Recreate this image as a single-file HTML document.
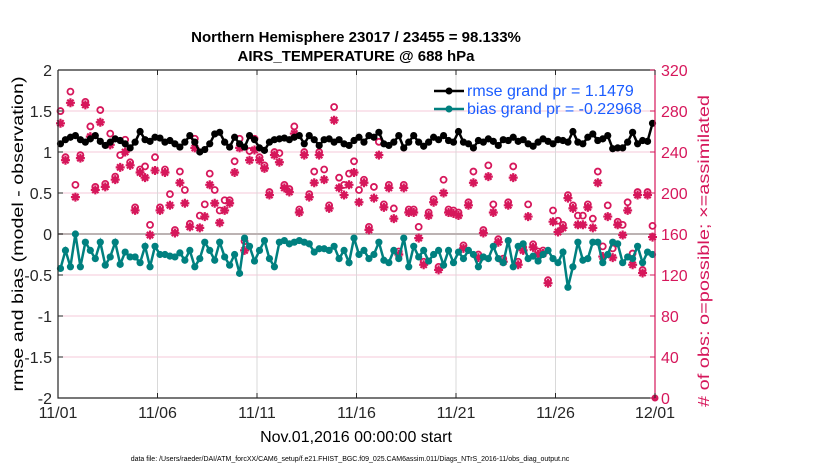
<!DOCTYPE html>
<html><head><meta charset="utf-8"><style>
body{margin:0;background:#fff;}
svg{display:block;font-family:"Liberation Sans",Arial,sans-serif;}
</style></head><body>
<svg id="chart" width="830" height="470" viewBox="0 0 830 470">
<rect width="830" height="470" fill="#fff"/>
<g id="grid"></g><g id="marks"></g><g id="axes"></g>
<text x="356" y="42" text-anchor="middle" font-size="15" font-weight="bold">Northern Hemisphere 23017 / 23455 = 98.133%</text>
<text x="356" y="61" text-anchor="middle" font-size="15" font-weight="bold">AIRS_TEMPERATURE @ 688 hPa</text>
<text transform="translate(23,234) rotate(-90)" text-anchor="middle" font-size="16" textLength="315" lengthAdjust="spacingAndGlyphs">rmse and bias (model - observation)</text>
<text transform="translate(709,251) rotate(-90)" text-anchor="middle" font-size="16" textLength="312" lengthAdjust="spacingAndGlyphs" fill="#d6175b"># of obs: o=possible; ×=assimilated</text>
<text x="356" y="442" text-anchor="middle" font-size="16">Nov.01,2016 00:00:00 start</text>
<text x="350" y="461" text-anchor="middle" font-size="7">data file: /Users/raeder/DAI/ATM_forcXX/CAM6_setup/f.e21.FHIST_BGC.f09_025.CAM6assim.011/Diags_NTrS_2016-11/obs_diag_output.nc</text>
<g>
<line x1="434" y1="91" x2="464" y2="91" stroke="#000" stroke-width="2.5"/><circle cx="449" cy="91" r="3.5" fill="#000"/>
<text x="467" y="96" font-size="16" fill="#1a5cff">rmse grand pr = 1.1479</text>
<line x1="434" y1="109" x2="464" y2="109" stroke="#00807f" stroke-width="2.5"/><circle cx="449" cy="109" r="3.5" fill="#00807f"/>
<text x="467" y="114" font-size="16" fill="#1a5cff">bias grand pr = -0.22968</text>
</g>
</svg>
<script>
const rmse=[1.10,1.15,1.18,1.20,1.15,1.12,1.16,1.20,1.13,1.08,1.12,1.16,1.14,1.10,1.05,1.12,1.25,1.15,1.13,1.18,1.17,1.12,1.14,1.10,1.06,1.12,1.20,1.12,1.00,1.03,1.10,1.22,1.24,1.12,1.06,1.18,1.10,1.06,1.20,1.15,1.05,1.02,1.12,1.15,1.16,1.17,1.15,1.18,1.20,1.10,1.20,1.15,1.08,1.15,1.16,1.12,1.15,1.10,1.08,1.14,1.18,1.12,1.20,1.18,1.24,1.10,1.08,1.12,1.20,1.05,1.12,1.20,1.12,1.07,1.12,1.18,1.15,1.20,1.14,1.12,1.25,1.12,1.10,1.05,1.14,1.12,1.16,1.13,1.08,1.15,1.14,1.18,1.13,1.15,1.10,1.07,1.12,1.16,1.13,1.10,1.15,1.14,1.12,1.25,1.12,1.10,1.18,1.22,1.14,1.16,1.20,1.04,1.05,1.05,1.12,1.24,1.10,1.14,1.13,1.35];
const bias=[-0.42,-0.2,-0.4,0.0,-0.4,-0.1,-0.2,-0.3,-0.1,-0.38,-0.28,-0.1,-0.37,-0.22,-0.28,-0.28,-0.35,-0.15,-0.4,-0.15,-0.25,-0.25,-0.27,-0.28,-0.23,-0.32,-0.2,-0.4,-0.3,-0.1,-0.2,-0.32,-0.1,-0.28,-0.38,-0.25,-0.48,-0.05,-0.15,-0.33,-0.2,-0.08,-0.3,-0.4,-0.1,-0.08,-0.12,-0.1,-0.08,-0.1,-0.12,-0.22,-0.18,-0.18,-0.2,-0.15,-0.3,-0.2,-0.35,-0.05,-0.25,-0.2,-0.3,-0.25,-0.1,-0.32,-0.35,-0.2,-0.3,-0.05,-0.4,-0.15,-0.28,-0.2,-0.33,-0.25,-0.2,-0.38,-0.2,-0.35,-0.22,-0.3,-0.2,-0.25,-0.4,-0.28,-0.3,-0.15,-0.3,-0.35,-0.08,-0.4,-0.15,-0.12,-0.3,-0.27,-0.33,-0.25,-0.2,-0.3,-0.35,-0.22,-0.65,-0.4,-0.1,-0.32,-0.3,-0.1,-0.1,-0.35,-0.25,-0.1,-0.12,-0.35,-0.28,-0.3,-0.15,-0.35,-0.22,-0.25];
const assim=[268,232,288,196,234,286,255,203,269,206,247,213,225,240,227,183,220,215,159,222,183,220,188,161,210,190,167,244,166,177,208,190,171,183,190,220,244,144,232,242,232,224,198,237,230,205,201,258,181,237,196,210,237,213,185,271,205,198,208,220,191,210,164,195,237,186,205,175,140,205,181,181,156,130,178,191,125,200,181,180,178,146,188,210,137,161,216,181,152,133,188,215,130,144,177,147,140,141,112,172,162,166,195,185,169,169,186,166,210,138,177,137,169,159,183,130,198,122,198,157];
const poss=[277,232,296,205,234,286,262,203,278,206,255,213,234,249,227,183,220,223,166,232,183,220,196,161,218,200,167,250,175,186,216,200,180,190,190,228,250,150,238,250,232,224,198,237,236,205,201,262,181,237,196,218,237,220,185,281,212,205,216,228,200,210,164,203,247,186,205,182,140,205,181,181,164,130,178,191,125,210,181,180,178,146,188,218,137,161,224,186,152,133,188,223,130,144,186,147,140,141,112,180,170,166,195,185,175,175,186,172,218,145,185,143,169,166,188,138,198,122,198,165];
const ticksL=[2,1.5,1,0.5,0,-0.5,-1,-1.5,-2];
const ticksLLabels=["2","1.5","1","0.5","0","-0.5","-1","-1.5","-2"];
const ticksR=[320,280,240,200,160,120,80,40,0];
const xTickDays=[0,5,10,15,20,25,30];
const xTickLabels=["11/01","11/06","11/11","11/16","11/21","11/26","12/01"];

const X0=58,X1=655,Y0=70,Y1=398,NS="http://www.w3.org/2000/svg";
const xs=d=>X0+(X1-X0)*d/30;
const yl=v=>Y1-(v+2)/4*(Y1-Y0);
const yr=v=>Y1-v/320*(Y1-Y0);
const tOf=i=>(i+0.5)*30/rmse.length;
function mk(tag,attrs,parent){const e=document.createElementNS(NS,tag);for(const k in attrs)e.setAttribute(k,attrs[k]);document.getElementById(parent).appendChild(e);return e;}

ticksR.forEach(v=>{if(v>0&&v<320){const g=mk('line',{x1:X0,x2:X1,y1:yr(v),y2:yr(v),stroke:'#f6c9d8','stroke-width':1},'grid');

}});
xTickDays.forEach(d=>{if(d>0&&d<30){const g=mk('line',{x1:xs(d),x2:xs(d),y1:Y0,y2:Y1,stroke:'#d9d9d9','stroke-width':1},'grid');

}});
const z=mk('line',{x1:X0,x2:X1,y1:yl(0),y2:yl(0),stroke:'#bcb3b3','stroke-width':2},'grid');



// obs markers
assim.forEach((v,i)=>{const x=xs(tOf(i)),y=yr(v),r=4.5;
const c=mk('circle',{cx:x,cy:yr(poss[i])-3,r:3,fill:'none',stroke:'#d6175b','stroke-width':1.8},'marks');


const s=mk('path',{d:`M${x-r},${y}H${x+r}M${x},${y-r}V${y+r}M${x-r*0.7},${y-r*0.7}L${x+r*0.7},${y+r*0.7}M${x-r*0.7},${y+r*0.7}L${x+r*0.7},${y-r*0.7}`,stroke:'#d6175b','stroke-width':2.2,fill:'none'},'marks');

});
const lastObs=mk('circle',{cx:X1,cy:yr(0),r:3.5,fill:'#d6175b'},'marks');



function series(arr,color,name){
const pts=arr.map((v,i)=>xs(tOf(i)).toFixed(1)+','+yl(v).toFixed(1)).join(' ');
const p=mk('polyline',{points:pts,fill:'none',stroke:color,'stroke-width':2.5},'marks');


arr.forEach((v,i)=>{const c=mk('circle',{cx:xs(tOf(i)),cy:yl(v),r:3.6,fill:color},'marks');

});}
series(bias,'#00807f','bias');
series(rmse,'#000','rmse');

// axes
const ax=mk('path',{d:`M${X0},${Y0}H${X1}M${X0},${Y0}V${Y1}H${X1}`,fill:'none',stroke:'#262626','stroke-width':1.2},'axes');


const ra=mk('line',{x1:X1,x2:X1,y1:Y0,y2:Y1,stroke:'#d6175b','stroke-width':1.2},'axes');


ticksL.forEach((v,i)=>{mk('line',{x1:X0,x2:X0+5,y1:yl(v),y2:yl(v),stroke:'#262626'},'axes');
const t=mk('text',{x:X0-6,y:yl(v)+6,'text-anchor':'end','font-size':16,fill:'#262626'},'axes');
t.textContent=ticksLLabels[i];

});
ticksR.forEach(v=>{mk('line',{x1:X1-5,x2:X1,y1:yr(v),y2:yr(v),stroke:'#d6175b'},'axes');
const t=mk('text',{x:X1+6,y:yr(v)+6,'font-size':16,fill:'#d6175b'},'axes');
t.textContent=v;

});
xTickDays.forEach((d,i)=>{mk('line',{x1:xs(d),x2:xs(d),y1:Y1,y2:Y1-5,stroke:'#262626'},'axes');
mk('line',{x1:xs(d),x2:xs(d),y1:Y0,y2:Y0+5,stroke:'#262626'},'axes');
const t=mk('text',{x:xs(d),y:Y1+20,'text-anchor':'middle','font-size':16,fill:'#262626'},'axes');
t.textContent=xTickLabels[i];

});
</script>
</body></html>
